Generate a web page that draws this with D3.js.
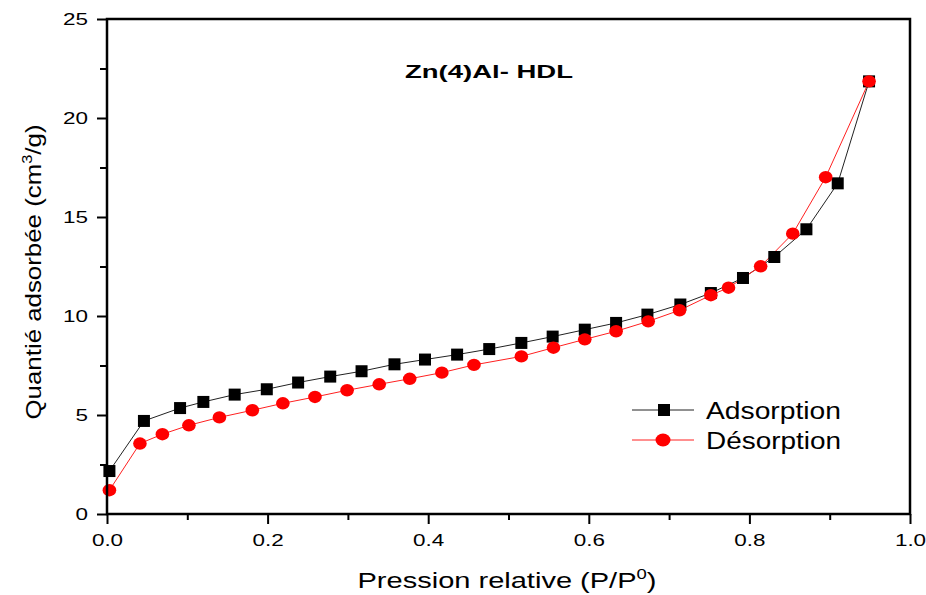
<!DOCTYPE html>
<html>
<head>
<meta charset="utf-8">
<script src="https://cdn.jsdelivr.net/npm/d3@7"></script>
<style>
  body { margin: 0; background: #fff; }
  svg text { font-family: "Liberation Sans", Arial, sans-serif; fill: #000; }
</style>
</head>
<body>
<svg id="chart" width="926" height="595"></svg>
<script>
// adsorption branch (black squares)
var adsX = [0.003, 0.046, 0.091, 0.120, 0.159, 0.199, 0.238, 0.278, 0.317, 0.358,
            0.396, 0.436, 0.476, 0.516, 0.555, 0.595, 0.634, 0.673, 0.714, 0.752,
            0.792, 0.831, 0.871, 0.910, 0.949];
var adsY = [2.17, 4.70, 5.35, 5.66, 6.03, 6.30, 6.64, 6.94, 7.21, 7.56,
            7.80, 8.05, 8.33, 8.64, 8.96, 9.31, 9.65, 10.07, 10.58, 11.16,
            11.92, 12.98, 14.38, 16.70, 21.85];
// desorption branch (red circles)
var desX = [0.003, 0.041, 0.069, 0.102, 0.140, 0.181, 0.219, 0.259, 0.299, 0.339,
            0.377, 0.417, 0.457, 0.516, 0.556, 0.595, 0.634, 0.674, 0.713, 0.752,
            0.774, 0.814, 0.854, 0.895, 0.949];
var desY = [1.20, 3.56, 4.03, 4.48, 4.88, 5.24, 5.59, 5.91, 6.25, 6.55,
            6.83, 7.14, 7.53, 7.96, 8.40, 8.82, 9.23, 9.73, 10.29, 11.05,
            11.43, 12.51, 14.16, 17.01, 21.85];

var xTicks = [0, 0.2, 0.4, 0.6, 0.8, 1.0];
var xMinor = [0.1, 0.3, 0.5, 0.7, 0.9];
var yTicks = [0, 5, 10, 15, 20, 25];
var yMinor = [2.5, 7.5, 12.5, 17.5, 22.5];

var seriesNames = ["Adsorption", "Désorption"];

var margin = {left: 107, right: 16, top: 19, bottom: 81};
var W = 926, H = 595;
var svg = d3.select("#chart");

var x = d3.scaleLinear().domain([0, 1]).range([margin.left, W - margin.right]);
var y = d3.scaleLinear().domain([0, 25]).range([H - margin.bottom, margin.top]);

// the original text is drawn wide, so stretch it
function stretch(sel, k) {
    sel.each(function() {
        var w = this.getComputedTextLength();
        d3.select(this).attr("textLength", w * k).attr("lengthAdjust", "spacingAndGlyphs");
    });
}

var ads = adsX.map(function(v, i) { return [v, adsY[i]]; });
var des = desX.map(function(v, i) { return [v, desY[i]]; });

var line = d3.line()
    .x(function(d) { return x(d[0]); })
    .y(function(d) { return y(d[1]); });

// data lines
svg.append("path").datum(ads)
    .attr("d", line).attr("fill", "none")
    .attr("stroke", "#222").attr("stroke-width", 1);
svg.append("path").datum(des)
    .attr("d", line).attr("fill", "none")
    .attr("stroke", "#ff2020").attr("stroke-width", 1);

// markers
svg.append("g").selectAll("rect").data(ads).enter().append("rect")
    .attr("x", function(d) { return x(d[0]) - 6; })
    .attr("y", function(d) { return y(d[1]) - 6; })
    .attr("width", 12).attr("height", 12)
    .attr("fill", "#000");
svg.append("g").selectAll("ellipse").data(des).enter().append("ellipse")
    .attr("cx", function(d) { return x(d[0]); })
    .attr("cy", function(d) { return y(d[1]); })
    .attr("rx", 6.8).attr("ry", 6.2)
    .attr("fill", "#ff0000");

// axes
var xAxis = svg.append("g")
    .attr("transform", "translate(0," + y(0) + ")")
    .call(d3.axisBottom(x).tickValues(xTicks).tickSize(10).tickPadding(8)
        .tickFormat(d3.format(".1f")));
var xAxisMinor = svg.append("g")
    .attr("transform", "translate(0," + y(0) + ")")
    .call(d3.axisBottom(x).tickValues(xMinor).tickSize(6).tickFormat(""));
var yAxis = svg.append("g")
    .attr("transform", "translate(" + x(0) + ",0)")
    .call(d3.axisLeft(y).tickValues(yTicks).tickSize(10).tickPadding(9));
var yAxisMinor = svg.append("g")
    .attr("transform", "translate(" + x(0) + ",0)")
    .call(d3.axisLeft(y).tickValues(yMinor).tickSize(7).tickFormat(""));

[xAxis, xAxisMinor, yAxis, yAxisMinor].forEach(function(g) {
    g.select(".domain").remove();
    g.selectAll(".tick line").attr("stroke", "#000").attr("stroke-width", 2);
    g.selectAll(".tick text").style("font-size", "16.5px").attr("fill", "#000");
});
xAxis.selectAll(".tick text").attr("dy", "0.85em");
stretch(xAxis.selectAll(".tick text"), 1.36);
stretch(yAxis.selectAll(".tick text"), 1.36);

// frame
svg.append("rect")
    .attr("x", x(0)).attr("y", y(25))
    .attr("width", x(1) - x(0)).attr("height", y(0) - y(25))
    .attr("fill", "none").attr("stroke", "#000").attr("stroke-width", 2.5);

// title
svg.append("text")
    .attr("x", 489).attr("y", 78)
    .attr("text-anchor", "middle")
    .attr("textLength", 168).attr("lengthAdjust", "spacingAndGlyphs")
    .style("font-size", "18.5px").style("font-weight", "bold")
    .text("Zn(4)Al- HDL");

// axis labels
var xl = svg.append("text")
    .attr("x", 507).attr("y", 588)
    .attr("text-anchor", "middle")
    .attr("textLength", 299).attr("lengthAdjust", "spacingAndGlyphs")
    .style("font-size", "22px");
xl.append("tspan").text("Pression relative (P/P");
xl.append("tspan").attr("dy", -9).style("font-size", "14px").text("0");
xl.append("tspan").attr("dy", 9).text(")");

var yl = svg.append("text")
    .attr("transform", "translate(41,272) rotate(-90)")
    .attr("text-anchor", "middle")
    .attr("textLength", 295).attr("lengthAdjust", "spacingAndGlyphs")
    .style("font-size", "22px");
yl.append("tspan").text("Quantié adsorbée (cm");
yl.append("tspan").attr("dy", -9).style("font-size", "14px").text("3");
yl.append("tspan").attr("dy", 9).text("/g)");

// legend
var legend = svg.append("g").attr("transform", "translate(632,410)");
seriesNames.forEach(function(name, i) {
    var g = legend.append("g").attr("transform", "translate(0," + (i * 30) + ")");
    g.append("line").attr("x1", 0).attr("x2", 62).attr("y1", 0).attr("y2", 0)
        .attr("stroke", i == 0 ? "#222" : "#ff2020").attr("stroke-width", 1);
    if (i == 0) {
        g.append("rect").attr("x", 26).attr("y", -6).attr("width", 12).attr("height", 12)
            .attr("fill", "#000");
    } else {
        g.append("ellipse").attr("cx", 31).attr("cy", 0).attr("rx", 7.5).attr("ry", 6.5)
            .attr("fill", "#ff0000");
    }
    g.append("text").attr("x", 74).attr("y", 9)
        .attr("textLength", 135).attr("lengthAdjust", "spacingAndGlyphs")
        .style("font-size", "23px")
        .text(name);
});
</script>
</body>
</html>
